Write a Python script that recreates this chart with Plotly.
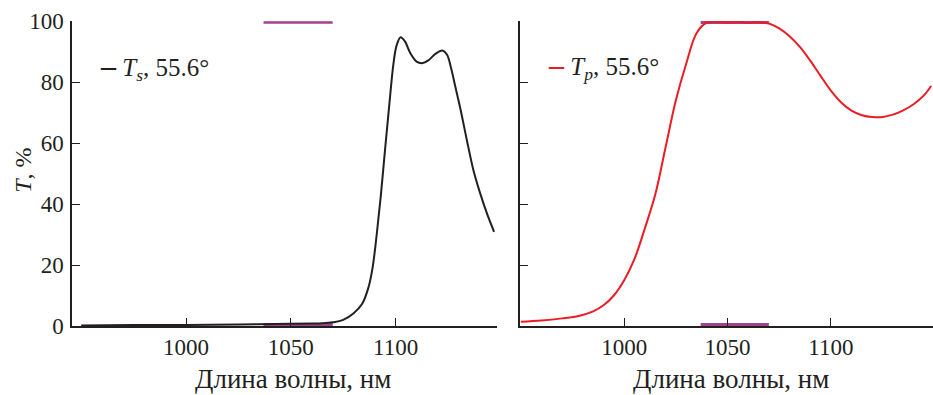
import plotly.graph_objects as go

# ---- data ----
ts_wl = [950, 975, 1000, 1025, 1050, 1060, 1065, 1070, 1075, 1080, 1084, 1087, 1089,
         1091, 1093, 1095, 1097, 1099, 1100.5, 1102.4, 1104.5, 1107, 1110, 1113, 1116,
         1119, 1122.3, 1124.5, 1126.5, 1128.5, 1131, 1134, 1137, 1140, 1143.5, 1147]
ts_val = [0.2, 0.3, 0.35, 0.5, 0.7, 0.8, 0.9, 1.2, 2.0, 4.2, 7.2, 12.5, 19,
          30, 43, 58, 72.5, 86, 92, 94.7, 93.3, 89.5, 86.7, 86.2, 87.3,
          89.2, 90.3, 89, 84.5, 78.5, 71, 61, 51.5, 44.3, 37.1, 30.9]

tp_wl = [950, 960, 970, 978, 985, 990, 995, 1000, 1005, 1010, 1015, 1020, 1025, 1030,
         1035, 1040, 1045, 1050, 1055, 1060, 1065, 1070, 1075, 1080, 1085, 1090, 1095,
         1100, 1105, 1110, 1115, 1120, 1125, 1130, 1135, 1140, 1145, 1148.5]
tp_val = [1.4, 1.8, 2.5, 3.3, 4.8, 6.8, 10.0, 15.0, 22.0, 32.0, 43.0, 58.5, 74, 86,
          96, 99.5, 99.7, 99.5, 99.7, 99.4, 99.6, 99.2, 97.6, 95.0, 91.5, 87.0, 82.0,
          77.2, 73.3, 70.6, 69.1, 68.5, 68.5, 69.3, 70.7, 72.7, 75.6, 78.7]

spec_wl = [1037, 1070]     # target band
spec_high = [99.5, 99.5]
spec_low = [0.5, 0.5]

x_ticks = [1000, 1050, 1100]
y_ticks = [0, 20, 40, 60, 80, 100]

FONT = "Liberation Serif, Times New Roman, Times, serif"
INK = "#231f20"
RED = "#ec1c24"
PURPLE = "#a3428c"

fig = go.Figure()

# left panel
fig.add_trace(go.Scatter(x=spec_wl, y=spec_high, mode="lines", line=dict(color=PURPLE, width=2.5),
                         xaxis="x", yaxis="y", showlegend=False))
fig.add_trace(go.Scatter(x=spec_wl, y=spec_low, mode="lines", line=dict(color=PURPLE, width=3),
                         xaxis="x", yaxis="y", showlegend=False))
fig.add_trace(go.Scatter(x=ts_wl, y=ts_val, mode="lines", line=dict(color=INK, width=2, shape="spline", smoothing=1.0),
                         xaxis="x", yaxis="y", showlegend=False))
# right panel
fig.add_trace(go.Scatter(x=spec_wl, y=spec_high, mode="lines", line=dict(color=PURPLE, width=3),
                         xaxis="x2", yaxis="y2", showlegend=False))
fig.add_trace(go.Scatter(x=spec_wl, y=spec_low, mode="lines", line=dict(color=PURPLE, width=3),
                         xaxis="x2", yaxis="y2", showlegend=False))
fig.add_trace(go.Scatter(x=tp_wl, y=tp_val, mode="lines", line=dict(color=RED, width=2, shape="spline", smoothing=1.0),
                         xaxis="x2", yaxis="y2", showlegend=False))

W, H = 933, 395
top, bottom = 21, 326.5
ph = bottom - top

def py(p):
    return (bottom - p) / ph

axis_common = dict(showline=True, linecolor=INK, linewidth=1.5, ticks="inside", ticklen=8,
                   tickwidth=1.3, tickcolor=INK, showgrid=False, zeroline=False,
                   tickfont=dict(family=FONT, size=23, color=INK))

dash_style = "font-size:30px;font-weight:bold;color:%s"

fig.update_layout(
    width=W, height=H,
    margin=dict(l=0, r=0, t=top, b=H - bottom),
    paper_bgcolor="white", plot_bgcolor="white",
    font=dict(family=FONT, color=INK),
    xaxis=dict(domain=[72 / W, 497 / W], range=[945.6, 1148.4], tickvals=x_ticks,
               anchor="y", **axis_common),
    yaxis=dict(domain=[0, 1], range=[0, 100], tickvals=y_ticks, anchor="x",
               ticklabelstandoff=2, **axis_common),
    xaxis2=dict(domain=[520 / W, 1.0], range=[949.6, 1149.4], tickvals=x_ticks,
                anchor="y2", **axis_common),
    yaxis2=dict(domain=[0, 1], range=[0, 100], tickvals=y_ticks, anchor="x2",
                showticklabels=False, **axis_common),
    annotations=[
        dict(text="Длина волны, нм", x=293.3 / W, y=py(380), xref="paper", yref="paper",
             showarrow=False, xanchor="center", yanchor="middle",
             font=dict(family=FONT, size=27, color=INK)),
        dict(text="Длина волны, нм", x=730.5 / W, y=py(380), xref="paper", yref="paper",
             showarrow=False, xanchor="center", yanchor="middle",
             font=dict(family=FONT, size=27, color=INK)),
        dict(text="<i>T</i>, %", x=23 / W, y=py(171), xref="paper", yref="paper",
             showarrow=False, xanchor="center", yanchor="middle", textangle=-90,
             font=dict(family=FONT, size=24, color=INK)),
        dict(text="<span style='%s'>–</span> <i>T</i><sub><i>s</i></sub>, 55.6°" % (dash_style % INK),
             x=98 / W, y=py(67), xref="paper", yref="paper",
             showarrow=False, xanchor="left", yanchor="middle",
             font=dict(family=FONT, size=25, color=INK)),
        dict(text="<span style='%s'>–</span> <i>T</i><sub><i>p</i></sub>, 55.6°" % (dash_style % RED),
             x=546 / W, y=py(66), xref="paper", yref="paper",
             showarrow=False, xanchor="left", yanchor="middle",
             font=dict(family=FONT, size=25, color=INK)),
    ],
)

fig.write_html("out.html", config={"displayModeBar": False},
               post_script="document.body.style.margin='0';document.body.style.padding='0';")
